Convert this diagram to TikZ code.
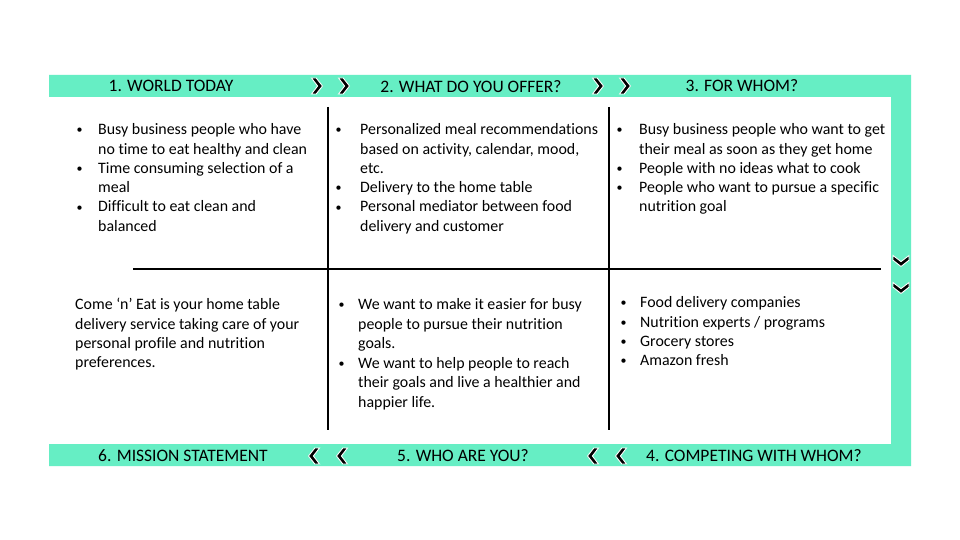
\documentclass[tikz,border=0pt]{standalone}
\usepackage{fontspec}
\setmainfont[Ligatures=NoCommon]{Carlito}
\definecolor{band}{RGB}{102,238,196}
\begin{document}
\begin{tikzpicture}[x=1pt,y=-1pt,
  header/.style={font=\fontsize{17.5}{20}\selectfont, text=black, inner sep=0pt, anchor=center},
  cell/.style={font=\fontsize{15.9}{19.3}\selectfont, inner sep=0pt, anchor=north west, align=left},
  divider/.style={black, line width=1.6pt},
  chev/.pic={\filldraw[fill=black, draw=white, line width=0.9pt]
      (-5.5,-8) -- (-0.8,-8) -- (5.5,0) -- (-0.8,8) -- (-5.5,8) -- (0.6,0) -- cycle;}]
% bullet marker and continuation indent of a given width
\newcommand{\bulw}[1]{\makebox[#1][l]{\hspace{1.5pt}\raisebox{0.8pt}{\fontsize{12}{12}\selectfont\textbullet}}}
\newcommand{\contw}[1]{\hspace*{#1}}
\useasboundingbox (0,0) rectangle (960,540);
\fill[white] (0,0) rectangle (960,540);

% frame band around the grid
\fill[band] (49,75) -- (911,75) -- (911,466) -- (49,466) -- (49,444) -- (891,444)
  -- (891,97) -- (49,97) -- cycle;

% headers
\node[header] (h1) at (171,86) {1. WORLD TODAY};
\node[header] (h2) at (471,87) {2. WHAT DO YOU OFFER?};
\node[header] (h3) at (742,86) {3. FOR WHOM?};
\node[header] (h4) at (754,456) {4. COMPETING WITH WHOM?};
\node[header] (h5) at (463,456) {5. WHO ARE YOU?};
\node[header] (h6) at (183,456) {6. MISSION STATEMENT};

% chevrons
\pic at (317,86) {chev};
\pic at (344,86) {chev};
\pic at (598,86) {chev};
\pic at (625,86) {chev};
\pic[rotate=-90] at (901,261) {chev};
\pic[rotate=-90] at (901,288) {chev};
\pic[rotate=180] at (314,456) {chev};
\pic[rotate=180] at (342,456) {chev};
\pic[rotate=180] at (593,456) {chev};
\pic[rotate=180] at (621,456) {chev};

% grid dividers
\coordinate (v1t) at (328,107);
\coordinate (v1b) at (328,430);
\coordinate (v2t) at (609,107);
\coordinate (v2b) at (609,430);
\coordinate (hl) at (133,269);
\coordinate (hr) at (881,269);
\draw[divider] (v1t) -- (v1b);
\draw[divider] (v2t) -- (v2b);
\draw[divider] (hl) -- (hr);

% top row
\node[cell] (world) at (75,121) {\begin{tabular}{@{}l@{}}
\bulw{23pt}Busy business people who have\\
\contw{23pt}no time to eat healthy and clean\\
\bulw{23pt}Time consuming selection of a\\
\contw{23pt}meal\\
\bulw{23pt}Difficult to eat clean and\\
\contw{23pt}balanced
\end{tabular}};
\node[cell] (offer) at (334,121) {\begin{tabular}{@{}l@{}}
\bulw{26pt}Personalized meal recommendations\\
\contw{26pt}based on activity, calendar, mood,\\
\contw{26pt}etc.\\
\bulw{26pt}Delivery to the home table\\
\bulw{26pt}Personal mediator between food\\
\contw{26pt}delivery and customer
\end{tabular}};
\node[cell] (whom) at (615,121) {\begin{tabular}{@{}l@{}}
\bulw{24pt}Busy business people who want to get\\
\contw{24pt}their meal as soon as they get home\\
\bulw{24pt}People with no ideas what to cook\\
\bulw{24pt}People who want to pursue a specific\\
\contw{24pt}nutrition goal
\end{tabular}};

% bottom row
\node[cell] (mission) at (75,296) {\begin{tabular}{@{}l@{}}
Come ‘n’ Eat is your home table\\
delivery service taking care of your\\
personal profile and nutrition\\
preferences.
\end{tabular}};
\node[cell] (you) at (337,296) {\begin{tabular}{@{}l@{}}
\bulw{21pt}We want to make it easier for busy\\
\contw{21pt}people to pursue their nutrition\\
\contw{21pt}goals.\\[1pt]
\bulw{21pt}We want to help people to reach\\
\contw{21pt}their goals and live a healthier and\\
\contw{21pt}happier life.
\end{tabular}};
\node[cell] (compete) at (619,294) {\begin{tabular}{@{}l@{}}
\bulw{21pt}Food delivery companies\\
\bulw{21pt}Nutrition experts / programs\\
\bulw{21pt}Grocery stores\\
\bulw{21pt}Amazon fresh
\end{tabular}};
\end{tikzpicture}
\end{document}
